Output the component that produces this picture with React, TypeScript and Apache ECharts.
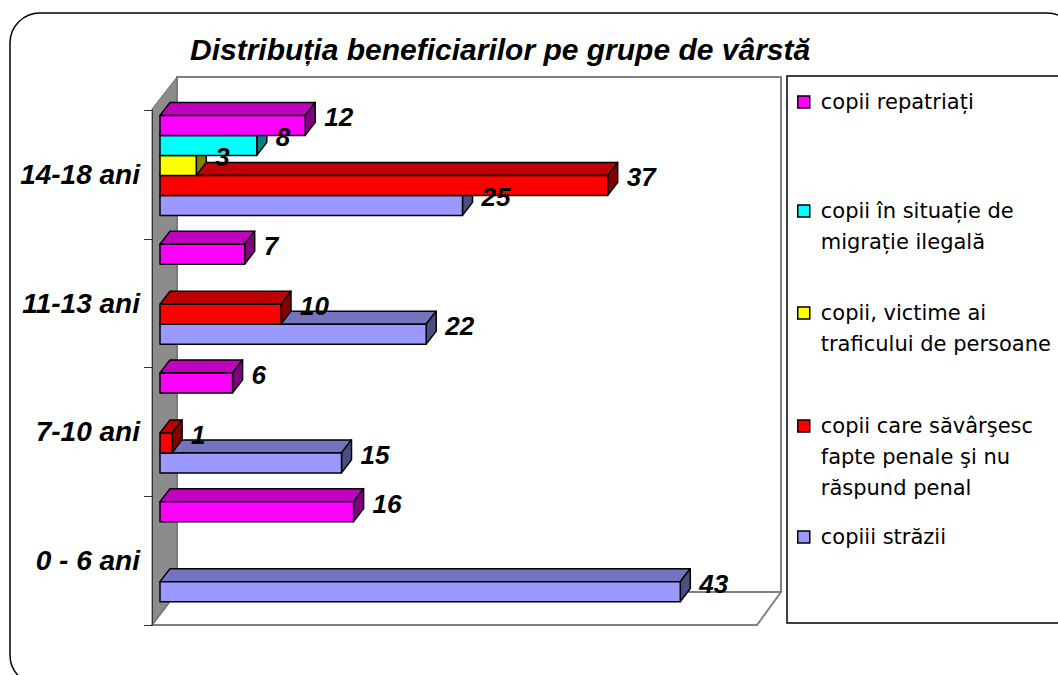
import React, { useEffect, useRef } from "react";
import * as echarts from "echarts";

// ---------- data ----------
const titleText = "Distribuția beneficiarilor pe grupe de vârstă";
const categories = ["0 - 6 ani", "7-10 ani", "11-13 ani", "14-18 ani"];
const seriesNames = [
  "copiii străzii",
  "copii care săvârşesc fapte penale şi nu răspund penal",
  "copii, victime ai traficului de persoane",
  "copii în situație de migrație ilegală",
  "copii repatriați",
];
const legendLabels = [
  "copiii străzii",
  "copii care săvârşesc\nfapte penale şi nu\nrăspund penal",
  "copii, victime ai\ntraficului de persoane",
  "copii în situație de\nmigrație ilegală",
  "copii repatriați",
];
const strazii = [43, 15, 22, 25];
const penal = [null, 1, 10, 37];
const trafic = [null, null, null, 3];
const migratie = [null, null, null, 8];
const repatriati = [16, 6, 7, 12];
const seriesValues = [strazii, penal, trafic, migratie, repatriati];
const xMax = 50;

// ---------- styles ----------
const frontColors = ["#9999FF", "#FF0000", "#FFFF00", "#00FFFF", "#FF00FF"];
const topColors = ["#7373BF", "#BF0000", "#BFBF00", "#00BFBF", "#BF00BF"];
const sideColors = ["#4D4D80", "#800000", "#808000", "#008080", "#800080"];
const legendCenters = [537, 426, 313, 211, 102];

// plot geometry (front plane of walls)
const GX = 152, GY = 110, GW = 605, GH = 515;
const WDX = 25, WDY = 33; // wall depth
const BDX = 10, BDY = 13; // bar depth
const BAR_FRAC = 20 / 128.75;
const LH = 31;

function buildOption() {
  const series = seriesValues.map((vals, s) => ({
    type: "custom",
    name: seriesNames[s],
    coordinateSystem: "cartesian2d",
    xAxisIndex: 1,
    yAxisIndex: 1,
    itemStyle: { color: frontColors[s] },
    encode: { x: 0, y: 1 },
    data: vals.map((v, i) => [v == null ? "-" : v, i]),
    renderItem: (params: any, api: any) => {
      const v = api.value(0);
      const ci = api.value(1);
      if (v == null || isNaN(v)) return null;
      const p0 = api.coord([0, ci]);
      const p1 = api.coord([v, ci]);
      const band = api.size([0, 1])[1];
      const bw = band * BAR_FRAC;
      const yTop = p0[1] + 2.5 * bw - (s + 1) * bw;
      const x0 = p0[0];
      const x1 = p1[0];
      const stroke = { stroke: "#000", lineWidth: 1.5, lineJoin: "round" };
      return {
        type: "group",
        children: [
          {
            type: "polygon",
            shape: { points: [[x0, yTop], [x0 + BDX, yTop - BDY], [x1 + BDX, yTop - BDY], [x1, yTop]] },
            style: { fill: topColors[s], ...stroke },
          },
          {
            type: "polygon",
            shape: { points: [[x1, yTop], [x1 + BDX, yTop - BDY], [x1 + BDX, yTop + bw - BDY], [x1, yTop + bw]] },
            style: { fill: sideColors[s], ...stroke },
          },
          {
            type: "rect",
            shape: { x: x0, y: yTop, width: x1 - x0, height: bw },
            style: { fill: frontColors[s], ...stroke },
          },
          {
            type: "text",
            z2: 100,
            style: {
              text: String(v),
              x: x1 + 19,
              y: yTop + 2,
              verticalAlign: "middle",
              align: "left",
              fill: "#000",
              font: 'italic bold 26px "Liberation Sans", Arial, sans-serif',
            },
          },
        ],
      };
    },
  }));

  const legends = seriesNames.map((name, s) => {
    const n = legendLabels[s].split("\n").length;
    const lead = "\n".repeat(n - 1);
    return {
      data: [name],
      orient: "vertical",
      left: 797,
      top: legendCenters[s] - ((2 * n - 1) * LH) / 2,
      padding: 0,
      itemWidth: 12,
      itemHeight: 12,
      icon: "rect",
      selectedMode: false,
      itemStyle: { borderColor: "#000", borderWidth: 1.5 },
      formatter: () => lead + legendLabels[s],
      textStyle: {
        fontFamily: "DejaVu Sans",
        fontSize: 21,
        color: "#000",
        lineHeight: LH,
        padding: [0, 0, 0, 6],
      },
    };
  });

  return {
    animation: false,
    backgroundColor: "#fff",
    title: {
      text: titleText,
      left: 190,
      top: 34,
      padding: 0,
      textStyle: {
        fontFamily: '"Liberation Sans", Arial, sans-serif',
        fontSize: 30,
        fontStyle: "italic",
        fontWeight: "bold",
        color: "#000",
      },
    },
    legend: legends,
    grid: [
      { left: GX, top: GY, width: GW, height: GH },
      { left: GX + 8, top: GY - 9, width: GW, height: GH },
    ],
    xAxis: [
      { type: "value", gridIndex: 0, min: 0, max: xMax, show: false },
      { type: "value", gridIndex: 1, min: 0, max: xMax, show: false },
    ],
    yAxis: [
      {
        type: "category",
        gridIndex: 0,
        data: categories,
        boundaryGap: true,
        axisLine: { show: true, lineStyle: { color: "#333", width: 1 } },
        axisTick: { show: true, length: 8, lineStyle: { color: "#333" } },
        splitLine: { show: false },
        axisLabel: {
          margin: 12,
          color: "#000",
          fontFamily: '"Liberation Sans", Arial, sans-serif',
          fontSize: 28,
          fontStyle: "italic",
          fontWeight: "bold",
        },
      },
      { type: "category", gridIndex: 1, data: categories, boundaryGap: true, show: false },
    ],
    graphic: [
      {
        type: "rect",
        z: -10,
        shape: { x: 10, y: 13, width: 1067, height: 672, r: 30 },
        style: { fill: "#fff", stroke: "#000", lineWidth: 1.5 },
      },
      {
        type: "rect",
        z: -9,
        shape: { x: GX + WDX, y: GY - WDY, width: GW - 1, height: GH },
        style: { fill: "#fff", stroke: "#808080", lineWidth: 2 },
      },
      {
        type: "polygon",
        z: -9,
        shape: {
          points: [
            [GX, GY + GH],
            [GX + GW, GY + GH],
            [GX + GW + WDX - 1, GY + GH - WDY],
            [GX + WDX, GY + GH - WDY],
          ],
        },
        style: { fill: "#fff", stroke: "#808080", lineWidth: 2 },
      },
      {
        type: "polygon",
        z: -8,
        shape: {
          points: [
            [GX, GY - 1],
            [GX + WDX, GY - WDY],
            [GX + WDX, GY + GH - WDY],
            [GX, GY + GH],
          ],
        },
        style: { fill: "#8C8C8C", stroke: "#6E6E6E", lineWidth: 1 },
      },
      {
        type: "rect",
        z: -9,
        shape: { x: 787, y: 76, width: 320, height: 547 },
        style: { fill: "#fff", stroke: "#000", lineWidth: 1.5 },
      },
    ],
    series,
  };
}

export default function App() {
  const ref = useRef<HTMLDivElement>(null);
  useEffect(() => {
    if (!ref.current) return;
    const chart = echarts.init(ref.current, null, { renderer: "svg" });
    chart.setOption(buildOption() as any);
    return () => chart.dispose();
  }, []);
  return (
    <div
      ref={ref}
      style={{ position: "fixed", left: 0, top: 0, width: 1058, height: 675, background: "#fff" }}
    />
  );
}
